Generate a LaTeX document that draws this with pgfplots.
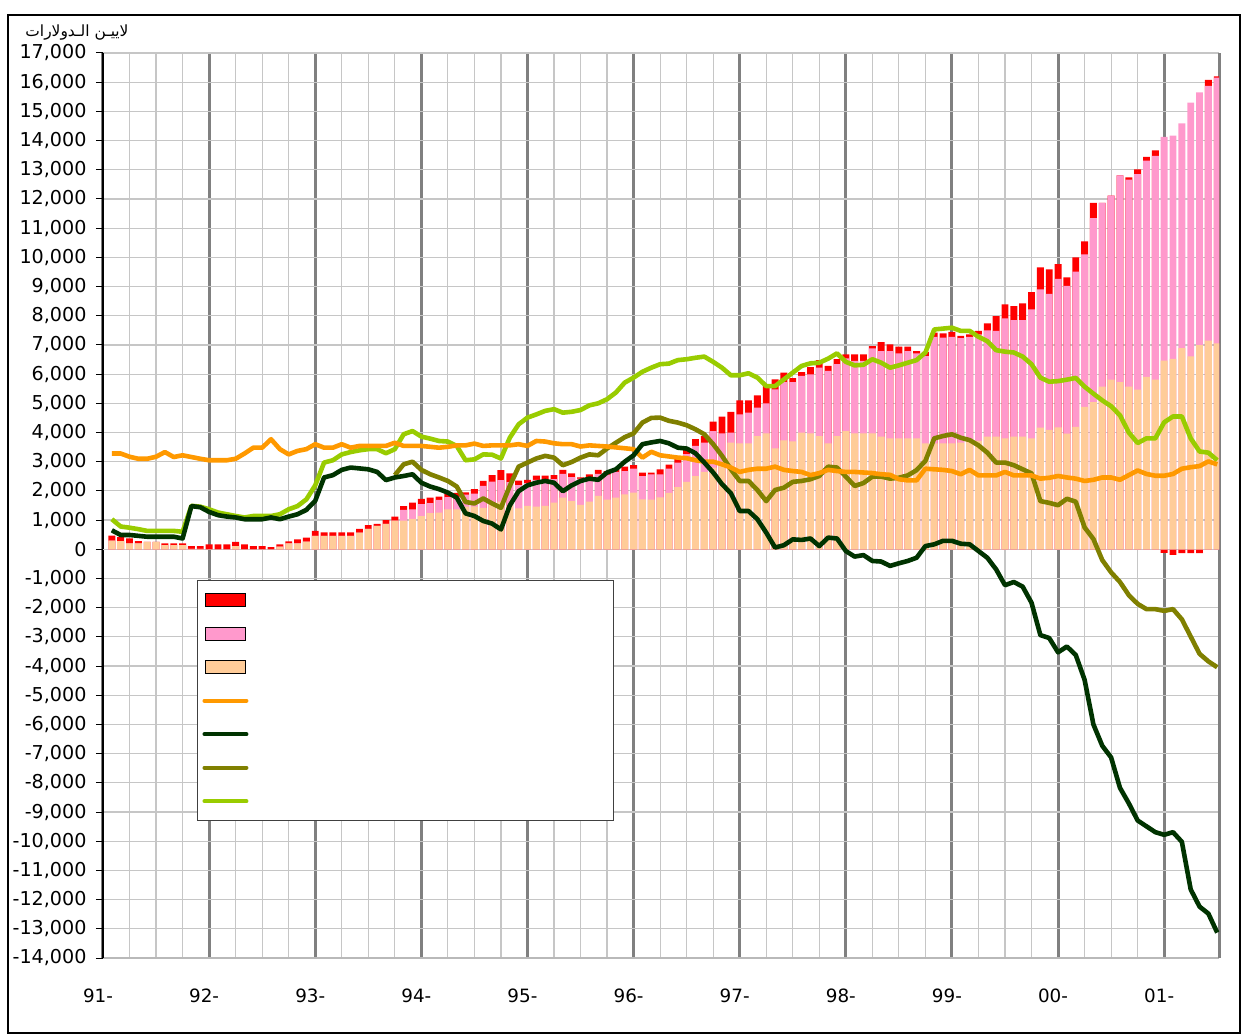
\documentclass[border=0pt]{standalone}
\usepackage{pgfplots}
\usepackage{pgfplotstable}
\usepackage{fontspec}
\pgfplotsset{compat=1.18}
\setmainfont{DejaVu Sans}
\newfontfamily\arabicfont[Script=Arabic]{DejaVu Sans}
\TeXXeTstate=1

\definecolor{cRed}{HTML}{FF0000}
\definecolor{cPink}{HTML}{FF99CC}
\definecolor{cPeach}{HTML}{FFCC99}
\definecolor{cOrange}{HTML}{FF9900}
\definecolor{cDark}{HTML}{003300}
\definecolor{cOlive}{HTML}{808000}
\definecolor{cLime}{HTML}{99CC00}

% monthly values, bar columns are cumulative tops (peach, +pink, +red)
\pgfplotstableread{
k peach pink red orange dark olive lime
1 300 300 470 3280 650 nan 1030
2 280 280 420 3280 490 nan 780
3 200 200 370 3170 490 nan 740
4 200 200 280 3100 460 nan 690
5 250 250 250 3100 430 nan 630
6 250 250 250 3170 430 nan 630
7 140 140 200 3330 430 nan 630
8 140 140 200 3160 430 nan 630
9 140 140 200 3220 370 nan 600
10 10 10 110 3160 1480 nan 1490
11 10 10 110 3100 1440 nan 1460
12 0 0 170 3050 1280 nan 1370
13 0 0 170 3050 1170 nan 1260
14 0 0 170 3050 1120 nan 1200
15 110 110 250 3100 1090 nan 1140
16 0 0 170 3280 1030 nan 1090
17 0 0 110 3480 1030 nan 1140
18 0 0 110 3480 1030 nan 1140
19 0 0 70 3770 1090 nan 1140
20 90 90 170 3430 1030 nan 1200
21 200 200 270 3250 1120 nan 1370
22 200 200 340 3370 1200 nan 1480
23 260 260 400 3430 1350 nan 1710
24 460 460 630 3600 1660 nan 2190
25 460 460 580 3480 2460 nan 2970
26 460 460 580 3480 2540 nan 3050
27 460 460 580 3600 2720 nan 3250
28 460 460 580 3480 2800 nan 3330
29 570 570 700 3540 2770 nan 3390
30 700 700 830 3540 2740 nan 3430
31 800 800 870 3540 2650 nan 3430
32 870 870 1000 3540 2370 nan 3290
33 980 980 1120 3650 2460 2540 3430
34 980 1350 1480 3540 2510 2910 3940
35 1040 1370 1600 3540 2570 3000 4050
36 1140 1550 1730 3540 2280 2720 3860
37 1240 1580 1770 3510 2150 2570 3790
38 1260 1690 1800 3480 2060 2460 3710
39 1370 1790 1890 3510 1940 2340 3690
40 1370 1800 1930 3560 1770 2150 3540
41 1460 1870 1950 3560 1230 1620 3050
42 1460 1910 2060 3620 1140 1570 3080
43 1420 2170 2340 3540 970 1740 3250
44 1570 2320 2540 3560 880 1570 3240
45 1630 2370 2710 3560 680 1420 3110
46 1500 2300 2600 3560 1500 2170 3820
47 1400 2200 2350 3600 1990 2830 4280
48 1490 2270 2380 3540 2190 2970 4510
49 1460 2380 2520 3710 2280 3110 4620
50 1490 2380 2520 3690 2340 3200 4740
51 1600 2400 2540 3630 2280 3140 4800
52 1770 2580 2720 3600 1990 2880 4680
53 1650 2470 2600 3600 2190 2990 4710
54 1520 2420 2460 3520 2340 3140 4770
55 1630 2460 2570 3560 2420 3250 4930
56 1830 2580 2720 3540 2380 3220 5000
57 1700 2560 2680 3520 2630 3450 5140
58 1770 2650 2780 3490 2740 3650 5370
59 1880 2680 2830 3460 3000 3840 5710
60 1940 2760 2880 3430 3220 3970 5880
61 1710 2510 2630 3140 3600 4340 6080
62 1700 2570 2630 3340 3660 4500 6220
63 1780 2570 2740 3220 3710 4510 6340
64 1930 2760 2900 3180 3630 4400 6360
65 2130 2970 3100 3140 3480 4340 6480
66 2310 3260 3430 3120 3450 4250 6510
67 2510 3540 3770 3050 3290 4110 6560
68 2650 3650 3880 3000 2970 3940 6600
69 2800 4050 4370 3000 2630 3600 6420
70 3000 3970 4540 2910 2230 3200 6220
71 3650 4000 4710 2800 1920 2740 5960
72 3630 4620 5100 2650 1310 2340 5960
73 3630 4680 5100 2720 1310 2340 6030
74 3880 4850 5270 2760 1030 2030 5880
75 3970 5000 5620 2760 570 1650 5590
76 3460 5480 5820 2830 60 2030 5590
77 3730 5730 6050 2720 140 2110 5820
78 3700 5730 5860 2680 340 2310 6050
79 4000 5940 6070 2650 320 2340 6280
80 3970 5990 6240 2540 370 2400 6370
81 3880 6220 6480 2610 110 2510 6390
82 3630 6110 6280 2720 400 2830 6530
83 3880 6340 6510 2680 370 2800 6710
84 4050 6540 6680 2650 -60 2490 6420
85 3970 6450 6680 2650 -250 2170 6300
86 3970 6450 6680 2630 -200 2270 6320
87 3970 6880 6960 2610 -400 2490 6510
88 3860 6790 7100 2570 -420 2490 6390
89 3800 6790 7020 2550 -570 2420 6220
90 3800 6710 6940 2400 -480 2450 6300
91 3800 6790 6940 2360 -400 2530 6390
92 3800 6710 6790 2360 -290 2710 6480
93 3630 6620 6760 2760 110 3030 6740
94 3630 7280 7420 2740 170 3800 7530
95 3630 7250 7400 2720 290 3880 7560
96 3630 7280 7450 2680 290 3940 7590
97 3650 7230 7310 2570 190 3820 7480
98 3680 7280 7360 2720 170 3740 7480
99 3710 7360 7480 2530 -60 3560 7280
100 3860 7500 7740 2530 -290 3310 7130
101 3860 7480 7990 2530 -690 2970 6820
102 3800 7910 8390 2650 -1230 2970 6770
103 3860 7850 8330 2530 -1120 2880 6740
104 3860 7850 8420 2530 -1280 2740 6600
105 3800 8220 8810 2530 -1830 2600 6340
106 4170 8900 9660 2420 -2940 1650 5880
107 4090 8750 9590 2450 -3040 1590 5740
108 4180 9260 9770 2510 -3530 1510 5760
109 3960 9020 9310 2460 -3330 1730 5810
110 4190 9510 10000 2420 -3620 1630 5870
111 4880 10100 10550 2340 -4470 750 5570
112 5040 11340 11870 2380 -6000 350 5330
113 5570 11870 11870 2460 -6730 -370 5100
114 5810 12110 12110 2460 -7130 -790 4900
115 5730 12810 12810 2380 -8170 -1120 4590
116 5570 12660 12740 2540 -8700 -1570 4000
117 5470 12850 13010 2700 -9290 -1870 3640
118 5910 13310 13440 2580 -9490 -2050 3800
119 5810 13480 13660 2520 -9690 -2050 3800
120 6460 14130 -120 2520 -9780 -2110 4350
121 6520 14170 -190 2580 -9690 -2050 4550
122 6890 14590 -130 2760 -10020 -2400 4550
123 6610 15300 -130 2810 -11650 -2990 3800
124 6990 15650 -130 2850 -12240 -3580 3350
125 7150 15870 16080 3010 -12480 -3840 3310
126 7050 16160 16200 2910 -13130 -4040 3050
}\monthly

\pgfplotsset{
  barleg/.style={legend image code/.code={\path[draw=none, fill=none] (0bp,-16.75bp) rectangle (40bp,16.75bp);
    \fill[##1] (0bp,-6.5bp) rectangle (40bp,6.5bp);}},
  lineleg/.style={legend image code/.code={\path[draw=none, fill=none] (0bp,-16.75bp) rectangle (40bp,16.75bp);
    \draw[##1] (-1bp,0bp) -- (41bp,0bp);}},
  bars/.style={ybar, bar width=0.78, bar shift=0pt, draw=none, forget plot},
  ser/.style={line width=4.6bp, line join=round, forget plot},
}

\begin{document}
\begin{tikzpicture}
\begin{axis}[
  scale only axis, width=1116bp, height=905bp,
  xmin=0, xmax=126.2, ymin=-14000, ymax=17000,
  axis x line*=bottom, axis y line*=left,
  axis line style={-},
  x axis line style={draw=gray!55, line width=1.2bp},
  y axis line style={draw=black, line width=1.2bp},
  xtick={0,12,...,120},
  xticklabels={91-,92-,93-,94-,95-,96-,97-,98-,99-,00-,01-},
  minor x tick num=3,
  xtick style={draw=none},
  xmajorgrids, xminorgrids, ymajorgrids,
  major x grid style={gray, line width=3bp},
  minor x grid style={gray!45, line width=1.2bp},
  major y grid style={gray!45, line width=1.2bp},
  ytick={-14000,-13000,...,17000},
  scaled y ticks=false,
  tick align=outside,
  major tick length=7bp,
  ytick style={black, line width=1bp},
  extra y ticks={0}, extra y tick labels={},
  extra y tick style={grid=major, major grid style={black, line width=1.2bp}},
  extra x ticks={126.2}, extra x tick labels={},
  extra x tick style={grid=major, major grid style={gray!55, line width=1.2bp}},
  /pgf/number format/assume math mode=true,
  /pgf/number format/1000 sep={,},
  tick label style={font=\fontsize{18.4}{22}\selectfont},
  yticklabel style={font=\fontsize{19.2}{22}\selectfont, xshift=-6bp},
  xticklabel style={yshift=-20bp, xshift=-5bp},
  legend style={at={(axis description cs:0.0842,0.4177)}, anchor=north west,
    draw=black!75, line width=1bp, fill=white, inner xsep=5bp, inner ysep=3bp,
    row sep=0pt},
  legend cell align=left,
]
\addplot[bars, fill=cRed] table[x=k, y=red] {\monthly};
\addplot[bars, fill=cPink] table[x=k, y=pink] {\monthly};
\addplot[bars, fill=cPeach] table[x=k, y=peach] {\monthly};

\addplot[ser, cLime] table[x=k, y=lime] {\monthly};
\addplot[ser, cOlive] table[x=k, y=olive] {\monthly};
\addplot[ser, cOrange] table[x=k, y=orange] {\monthly};
\addplot[ser, cDark] table[x=k, y=dark] {\monthly};

\addlegendimage{barleg, fill=cRed}
\addlegendentry{\hspace*{356bp}}
\addlegendimage{barleg, fill=cPink}
\addlegendentry{\hspace*{356bp}}
\addlegendimage{barleg, fill=cPeach}
\addlegendentry{\hspace*{356bp}}
\addlegendimage{lineleg, cOrange, line width=4bp, line cap=round}
\addlegendentry{\hspace*{356bp}}
\addlegendimage{lineleg, cDark, line width=4bp, line cap=round}
\addlegendentry{\hspace*{356bp}}
\addlegendimage{lineleg, cOlive, line width=4bp, line cap=round}
\addlegendentry{\hspace*{356bp}}
\addlegendimage{lineleg, cLime, line width=4bp, line cap=round}
\addlegendentry{\hspace*{356bp}}
\end{axis}
\node[font=\arabicfont\fontsize{15.5}{18}\selectfont] at (-26bp,925bp) {\beginR لاييـن الـدولارات\endR};
\draw[black, line width=1.5bp] (-95bp,-75bp) rectangle (1137bp,943bp);
\path (-103bp,-77bp) rectangle (1144bp,958bp);
\end{tikzpicture}
\end{document}
